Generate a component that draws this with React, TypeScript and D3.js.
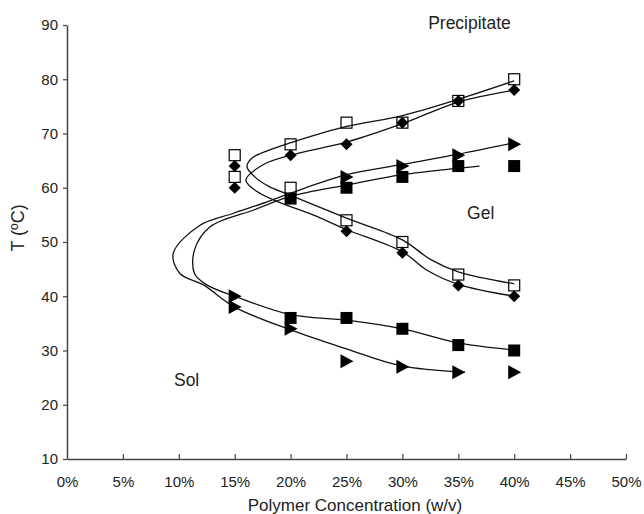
import React, { useEffect, useRef } from 'react'
import * as d3 from 'd3'

// concentration (%) ticks and temperature ticks
const xTicks = [0, 5, 10, 15, 20, 25, 30, 35, 40, 45, 50]
const yTicks = [10, 20, 30, 40, 50, 60, 70, 80, 90]

// measured points [conc %, T]
const openSquares = [
  [15, 66], [20, 68], [25, 72], [30, 72], [35, 76], [40, 80],
  [15, 62], [20, 60], [25, 54], [30, 50], [35, 44], [40, 42],
]
const diamonds = [
  [15, 64], [20, 66], [25, 68], [30, 72], [35, 76], [40, 78],
  [15, 60], [25, 52], [30, 48], [35, 42], [40, 40],
]
const filledSquares = [
  [20, 58], [25, 60], [30, 62], [35, 64], [40, 64],
  [20, 36], [25, 36], [30, 34], [35, 31], [40, 30],
]
const triangles = [
  [25, 62], [30, 64], [35, 66], [40, 68],
  [15, 40], [15, 38], [20, 34], [25, 28], [30, 27], [35, 26], [40, 26],
]

// fitted boundary curves [conc %, T]
const curveOpen = [
  [40, 79.7], [35, 76.3], [30, 73.3], [25, 71.3], [20, 68.3], [18, 66.9], [16.5, 65.4], [16.1, 63.9],
  [16.8, 62], [18, 60.3], [20, 58.6], [25, 54.4], [30, 50.4], [32.5, 46.8], [35, 44.5], [40, 42.3],
]
const curveDiamond = [
  [40, 78], [35, 75.8], [30, 71.8], [25, 68.4], [20, 66], [17.5, 64.2], [16, 61.4],
  [17, 59.3], [19, 57.3], [22, 55], [25, 52.3], [30, 48.2], [32.2, 44.8], [35, 42.2], [40, 40],
]
const curveFilled = [
  [36.9, 64], [35, 63.6], [30, 62.4], [25, 60.5], [20, 58.4], [16.7, 55.9], [12.8, 52.8],
  [11.4, 48.5], [11.4, 44.2], [12.5, 42.1], [15, 40], [20, 36.6], [25, 35.6], [30, 34],
  [35, 31.4], [40, 30.1],
]
const curveTriangle = [
  [40, 68.3], [35, 66.2], [30, 64.3], [25, 62.4], [20, 59], [17.9, 57.4], [14.9, 55.3],
  [11.9, 53.1], [9.5, 47.9], [10.1, 44.2], [12.2, 42.1], [15, 38], [20, 33.8], [25, 30.3],
  [29.8, 27.2], [35.6, 26],
]

const regionLabels = [
  { text: 'Precipitate', x: 36.0, y: 90.4 },
  { text: 'Gel', x: 37.0, y: 55.3 },
  { text: 'Sol', x: 10.7, y: 24.6 },
]

const App = () => {
  const svgRef = useRef(null)
  const width = 644
  const height = 514
  const font = 'Liberation Sans, Arial, sans-serif'

  useEffect(() => {
    const svg = d3.select(svgRef.current)
    svg.selectAll('*').remove()

    const x = d3.scaleLinear().domain([0, 50]).range([67, 626])
    const y = d3.scaleLinear().domain([10, 90]).range([459, 25])
    const g = svg.append('g')

    // curves
    const line = d3
      .line()
      .x((d) => x(d[0]))
      .y((d) => y(d[1]))
      .curve(d3.curveCatmullRom.alpha(0.5))
    ;[curveOpen, curveDiamond, curveFilled, curveTriangle].forEach((c) => {
      g.append('path')
        .attr('d', line(c))
        .attr('fill', 'none')
        .attr('stroke', '#111')
        .attr('stroke-width', 1.3)
    })

    // markers
    const s = 6
    g.append('g')
      .selectAll('path')
      .data(diamonds)
      .join('path')
      .attr('d', (d) => {
        const cx = x(d[0]), cy = y(d[1])
        return `M${cx},${cy - s}L${cx + s},${cy}L${cx},${cy + s}L${cx - s},${cy}Z`
      })
      .attr('fill', '#000')
    g.append('g')
      .selectAll('rect')
      .data(openSquares)
      .join('rect')
      .attr('x', (d) => x(d[0]) - 5.5)
      .attr('y', (d) => y(d[1]) - 5.5)
      .attr('width', 11)
      .attr('height', 11)
      .attr('fill', 'none')
      .attr('stroke', '#000')
      .attr('stroke-width', 1.2)
    g.append('g')
      .selectAll('rect')
      .data(filledSquares)
      .join('rect')
      .attr('x', (d) => x(d[0]) - 6)
      .attr('y', (d) => y(d[1]) - 6)
      .attr('width', 12)
      .attr('height', 12)
      .attr('fill', '#000')
    g.append('g')
      .selectAll('path')
      .data(triangles)
      .join('path')
      .attr('d', (d) => {
        const cx = x(d[0]), cy = y(d[1])
        return `M${cx - 6},${cy - 7}L${cx + 7},${cy}L${cx - 6},${cy + 7}Z`
      })
      .attr('fill', '#000')

    // axes
    const xAxis = g
      .append('g')
      .attr('transform', `translate(0,${y(10)})`)
      .call(
        d3
          .axisBottom(x)
          .tickValues(xTicks)
          .tickSize(-5)
          .tickSizeOuter(0)
          .tickPadding(17)
          .tickFormat((d) => d + '%')
      )
    const yAxis = g
      .append('g')
      .attr('transform', `translate(${x(0)},0)`)
      .call(d3.axisLeft(y).tickValues(yTicks).tickSize(4).tickSizeOuter(0).tickPadding(5))
    ;[xAxis, yAxis].forEach((a) => {
      a.selectAll('path.domain').attr('stroke', '#444').attr('stroke-width', 1.5)
      a.selectAll('.tick line').attr('stroke', '#444').attr('stroke-width', 1.2)
      a.selectAll('.tick text')
        .attr('fill', '#222')
        .style('font-family', font)
        .style('font-size', '15px')
    })
    xAxis.selectAll('.tick').filter((d) => d === 0).select('line').remove()

    // titles
    g.append('text')
      .text('Polymer Concentration (w/v)')
      .attr('x', 355)
      .attr('y', 511)
      .attr('text-anchor', 'middle')
      .attr('fill', '#222')
      .style('font-family', font)
      .style('font-size', '17px')
    g.append('text')
      .text('T (ºC)')
      .attr('transform', `translate(24,228) rotate(-90)`)
      .attr('text-anchor', 'middle')
      .attr('fill', '#222')
      .style('font-family', font)
      .style('font-size', '18px')

    g.append('g')
      .selectAll('text')
      .data(regionLabels)
      .join('text')
      .text((d) => d.text)
      .attr('x', (d) => x(d.x))
      .attr('y', (d) => y(d.y))
      .attr('text-anchor', 'middle')
      .attr('dominant-baseline', 'central')
      .attr('fill', '#222')
      .style('font-family', font)
      .style('font-size', '17.5px')
  }, [])

  return (
    <svg
      ref={svgRef}
      width={width}
      height={height}
      style={{ position: 'absolute', left: 0, top: 0, background: '#fff' }}
    ></svg>
  )
}

export default App
